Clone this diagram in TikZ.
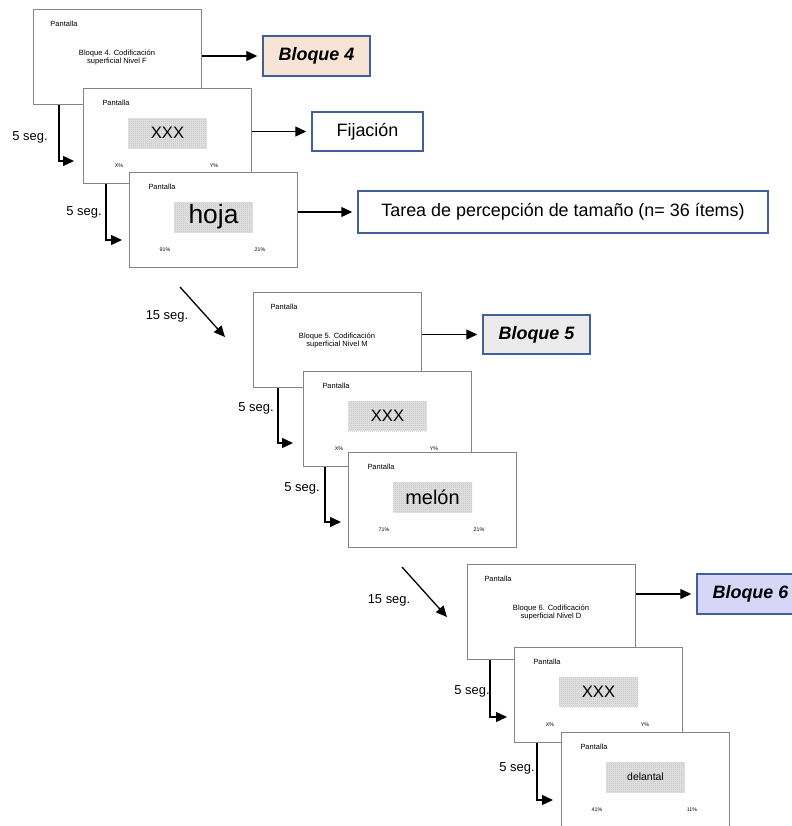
\documentclass[tikz,border=0pt]{standalone}
\usepackage{fontspec}
\setmainfont{Liberation Sans}
\usetikzlibrary{arrows.meta,patterns.meta,calc}
\definecolor{bordergray}{HTML}{858585}
\definecolor{boxblue}{HTML}{41609A}
\definecolor{peach}{HTML}{F8E4D6}
\definecolor{lightgr}{HTML}{EBEBEB}
\definecolor{lavender}{HTML}{D6D6F7}
\definecolor{patgray}{HTML}{CBCBCB}
\definecolor{patline}{HTML}{DEDEDE}
\newcommand\FSz[2]{\fontsize{#1}{#2}\selectfont}
\tikzset{
  screen/.style={draw=bordergray, line width=1.1bp, fill=white, minimum width=168bp,
    minimum height=95bp, inner sep=0, anchor=north west},
  pant/.style={font=\FSz{7.5}{9}, inner sep=0},
  gbox/.style={fill=patgray,
    postaction={pattern={Lines[distance=2bp,angle=0,line width=0.6bp]}, pattern color=patline},
    postaction={pattern={Lines[distance=2bp,angle=90,line width=0.6bp]}, pattern color=patline},
    minimum width=79bp, minimum height=30bp, inner sep=0},
  pct/.style={font=\FSz{5.3}{6}, inner sep=0},
  infobox/.style={draw=boxblue, line width=1.5bp, inner sep=0},
  bloque/.style={infobox, minimum width=107bp, minimum height=40bp,
    font=\bfseries\itshape\FSz{18}{20}},
  arr/.style={line width=1.3bp, -{Triangle[length=11bp,width=10bp]}},
  rarr/.style={arr, shorten >=5bp},
  seg/.style={font=\FSz{13}{15}, inner sep=0},
}
\newcommand\TitleScreen[5]{%
  \node[screen] (#1) at (#2,#3) {};
  \node[pant] (#1-p) at ({#2+31},{#3+15}) {Pantalla};
  \node[inner sep=0, align=center, font=\FSz{7.6}{9}] (#1-t) at ({#2+84},{#3+48.5}) {#4\\#5};
}
\newcommand\WordScreen[7]{%
  \node[screen] (#1) at (#2,#3) {};
  \node[pant] (#1-p) at ({#2+33},{#3+15}) {Pantalla};
  \node[gbox] (#1-g) at ({#2+84.5},{#3+45}) {};
  \node[inner sep=0, font=#4] (#1-w) at (#1-g) {#5};
  \node[pct] (#1-l) at ({#2+36},{#3+78}) {#6};
  \node[pct] (#1-r) at ({#2+131},{#3+78}) {#7};
}
\begin{document}
\begin{tikzpicture}[x=1bp,y=-1bp]
\useasboundingbox (0,0) rectangle (792,826);
\clip (0,0) rectangle (792,826);

% ---------- group A ----------
\TitleScreen{a1}{33}{9}{Bloque 4. Codificación}{superficial Nivel F}
\WordScreen{a2}{83}{88}{\FSz{16.7}{18}}{XXX}{X\%}{Y\%}
\WordScreen{a3}{129}{172}{\FSz{26.5}{28}}{hoja}{91\%}{21\%}

\node[bloque, fill=peach] (bl4) at (316.5,56) {Bloque 4};
\node[infobox, minimum width=111bp, minimum height=39bp, font=\FSz{18}{20}] (fij) at (367.5,131.5) {Fijación};
\node[infobox, minimum width=410bp, minimum height=42bp, font=\FSz{18}{20}] (tarea) at (563,212) {Tarea de percepción de tamaño (n= 36 ítems)};

\draw[rarr] (a1.east |- bl4.west) -- (bl4.west);
\draw[rarr] (a2.east |- fij.west) -- (fij.west);
\draw[rarr] (a3.east |- tarea.west) -- (tarea.west);

\coordinate (ea1) at (74,161);
\coordinate (ea2) at (122,240);
\draw[arr] ([xshift=26bp]a1.south west) |- (ea1);
\draw[arr] ([xshift=23bp]a2.south west) |- (ea2);
\node[seg] (sa1) at (30,137) {5 seg.};
\node[seg] (sa2) at (84,212) {5 seg.};

% ---------- transition A -> B ----------
\coordinate (d1s) at (180,287);
\coordinate (d1e) at (225,337);
\draw[arr] (d1s) -- (d1e);
\node[seg] (q1) at (167,316) {15 seg.};

% ---------- group B ----------
\TitleScreen{b1}{253}{292}{Bloque 5. Codificación}{superficial Nivel M}
\WordScreen{b2}{303}{371}{\FSz{16.7}{18}}{XXX}{X\%}{Y\%}
\WordScreen{b3}{348}{452}{\FSz{20}{22}}{melón}{71\%}{21\%}

\node[bloque, fill=lightgr, minimum height=39bp] (bl5) at (536.5,334.5) {Bloque 5};
\draw[rarr] (b1.east |- bl5.west) -- (bl5.west);

\coordinate (eb1) at (293,443);
\coordinate (eb2) at (341,522);
\draw[arr] ([xshift=25bp]b1.south west) |- (eb1);
\draw[arr] ([xshift=22bp]b2.south west) |- (eb2);
\node[seg] (sb1) at (256,408) {5 seg.};
\node[seg] (sb2) at (302,488) {5 seg.};

% ---------- transition B -> C ----------
\coordinate (d2s) at (402,567);
\coordinate (d2e) at (447,617);
\draw[arr] (d2s) -- (d2e);
\node[seg] (q2) at (389,600) {15 seg.};

% ---------- group C ----------
\TitleScreen{c1}{467}{564}{Bloque 6. Codificación}{superficial Nivel D}
\WordScreen{c2}{514}{647}{\FSz{16.7}{18}}{XXX}{X\%}{Y\%}
\WordScreen{c3}{561}{732}{\FSz{10.5}{12}}{delantal}{41\%}{11\%}

\node[bloque, fill=lavender] (bl6) at (750.5,594) {Bloque 6};
\draw[rarr] (c1.east |- bl6.west) -- (bl6.west);

\coordinate (ec1) at (507,717);
\coordinate (ec2) at (553,800);
\draw[arr] ([xshift=23bp]c1.south west) |- (ec1);
\draw[arr] ([xshift=23bp]c2.south west) |- (ec2);
\node[seg] (sc1) at (472,691) {5 seg.};
\node[seg] (sc2) at (517,768) {5 seg.};
\end{tikzpicture}
\end{document}
